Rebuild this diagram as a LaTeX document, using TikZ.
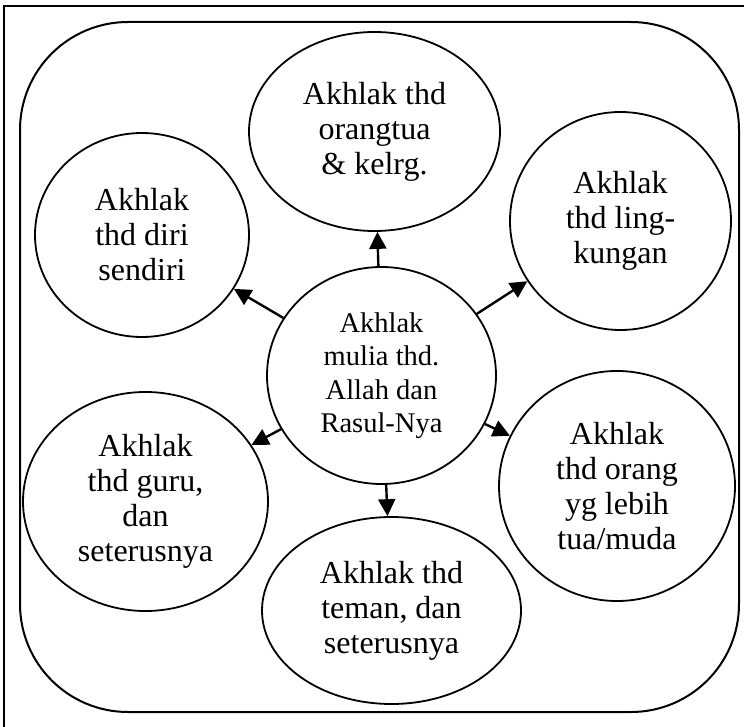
\documentclass[tikz,border=0pt]{standalone}
\usepackage{fontspec}
\setmainfont{Liberation Serif}
\usetikzlibrary{shapes.geometric,arrows.meta}

\tikzset{
  frame/.style={line width=2pt},
  bubble/.style={ellipse, draw, line width=1.8pt, inner sep=0pt, align=center,
    font=\fontsize{32}{35}\selectfont},
  hub/.style={bubble, font=\fontsize{28.5}{33.5}\selectfont},
  arr/.style={line width=2.4pt, -{Triangle[length=17pt,width=17pt]}},
}

\begin{document}
\begin{tikzpicture}[x=1pt,y=-1pt]
  \useasboundingbox (0,0) rectangle (744,727);

  % cropped outer frame: only its top and left sides fall inside the page
  \draw[frame] (744,6) -- (4,6) -- (4,727);
  % rounded container
  \draw[frame, rounded corners=108pt] (20,22) rectangle (739,712);

  % central node
  \node[hub, minimum width=229pt, minimum height=217pt] (c) at (381.5,375.5)
    {Akhlak\\mulia thd.\\Allah dan\\Rasul-Nya};

  % surrounding nodes
  \node[bubble, minimum width=251pt, minimum height=199pt] (top) at (374.5,131.5)
    {Akhlak thd\\orangtua\\\& kelrg.};
  \node[bubble, minimum width=214pt, minimum height=204pt] (diri) at (142,235)
    {Akhlak\\thd diri\\sendiri};
  \node[bubble, minimum width=221pt, minimum height=218pt] (ling) at (620.5,221)
    {Akhlak\\thd ling-\\kungan};
  \node[bubble, minimum width=245pt, minimum height=219pt] (guru) at (145.5,501.5)
    {Akhlak\\thd guru,\\dan\\seterusnya};
  \node[bubble, minimum width=236pt, minimum height=230pt] (tua) at (617,486)
    {Akhlak\\thd orang\\yg lebih\\tua/muda};
  \node[bubble, minimum width=259pt, minimum height=187pt] (teman) at (391.5,610.5)
    {Akhlak thd\\teman, dan\\seterusnya};

  % arrows from the centre outwards
  \draw[arr] (c) -- (top);
  \draw[arr] (c) -- (diri);
  \draw[arr] (c) -- (ling);
  \draw[arr] (c) -- (guru);
  \draw[arr] (c) -- (tua);
  \draw[arr] (c) -- (teman);
\end{tikzpicture}
\end{document}
